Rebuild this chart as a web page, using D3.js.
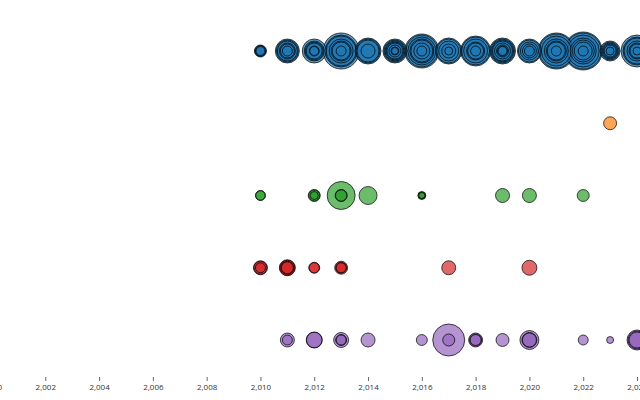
<!DOCTYPE html>
<html>
<head>
<meta charset="utf-8">
<script src="https://cdn.jsdelivr.net/npm/d3@7"></script>
<style>
  html, body { margin: 0; padding: 0; background: #fff; }
  svg { display: block; font-family: "Open Sans", "Noto Sans", sans-serif; }
</style>
</head>
<body>
<svg id="chart" width="640" height="400"></svg>
<script>
// Categories (rows) in order top to bottom
const categories = ["Series 1", "Series 2", "Series 3", "Series 4", "Series 5"];
const tickYears = [2000, 2002, 2004, 2006, 2008, 2010, 2012, 2014, 2016, 2018, 2020, 2022, 2024];

// Each entry: [year, value]; several entries per year overlap concentrically
const series1 = [
  [2010, 36], [2010, 30], [2010, 25], [2010, 20],
  [2011, 144], [2011, 121], [2011, 100], [2011, 64], [2011, 49], [2011, 25],
  [2012, 144], [2012, 100], [2012, 81], [2012, 64], [2012, 25], [2012, 20],
  [2013, 324], [2013, 256], [2013, 225], [2013, 144], [2013, 100], [2013, 81], [2013, 25],
  [2014, 169], [2014, 144], [2014, 121], [2014, 49],
  [2015, 144], [2015, 121], [2015, 100], [2015, 81], [2015, 64], [2015, 36], [2015, 16], [2015, 12],
  [2016, 289], [2016, 256], [2016, 196], [2016, 144], [2016, 121], [2016, 64], [2016, 25],
  [2017, 169], [2017, 144], [2017, 100], [2017, 49], [2017, 16],
  [2018, 225], [2018, 196], [2018, 144], [2018, 81], [2018, 64], [2018, 25],
  [2019, 169], [2019, 144], [2019, 121], [2019, 100], [2019, 64], [2019, 36], [2019, 25], [2019, 20],
  [2020, 144], [2020, 121], [2020, 81], [2020, 49], [2020, 25],
  [2021, 324], [2021, 289], [2021, 225], [2021, 144], [2021, 100], [2021, 81], [2021, 25],
  [2022, 361], [2022, 324], [2022, 256], [2022, 169], [2022, 121], [2022, 81], [2022, 25],
  [2023, 100], [2023, 81], [2023, 64], [2023, 49], [2023, 36], [2023, 16],
  [2024, 256], [2024, 196], [2024, 169], [2024, 100], [2024, 64], [2024, 49], [2024, 16]
];
const series2 = [
  [2023, 42]
];
const series3 = [
  [2010, 25], [2010, 22],
  [2012, 36], [2012, 30], [2012, 16],
  [2013, 196], [2013, 36], [2013, 32],
  [2014, 81],
  [2016, 16], [2016, 12], [2016, 9],
  [2019, 49],
  [2020, 49],
  [2022, 36]
];
const series4 = [
  [2010, 49], [2010, 42], [2010, 25],
  [2011, 64], [2011, 56], [2011, 42], [2011, 36],
  [2012, 30], [2012, 26],
  [2013, 42], [2013, 30], [2013, 25],
  [2017, 49],
  [2020, 56]
];
const series5 = [
  [2011, 49], [2011, 25],
  [2012, 64], [2012, 60],
  [2013, 56], [2013, 30], [2013, 25],
  [2014, 49],
  [2016, 30],
  [2017, 256], [2017, 36],
  [2018, 49], [2018, 36], [2018, 30],
  [2019, 42],
  [2020, 90], [2020, 56], [2020, 49],
  [2022, 25],
  [2023, 12],
  [2024, 100], [2024, 81], [2024, 64]
];
const allSeries = [series1, series2, series3, series4, series5];
const colors = d3.schemeCategory10;

const svg = d3.select("#chart");

const x = d3.scaleLinear().domain([2000, 2024]).range([-8.5, 637]);
const y = d3.scalePoint().domain(categories).range([51, 340]);
const r = d3.scaleSqrt().domain([0, 400]).range([0, 20]);

const data = [];
allSeries.forEach((s, i) => {
  s.forEach(([year, value]) => data.push({ cat: categories[i], ci: i, year, value }));
});
// Draw larger first so smaller remain visible on top
data.sort((a, b) => b.value - a.value);

svg.append("g")
  .selectAll("circle")
  .data(data)
  .join("circle")
  .attr("cx", d => x(d.year))
  .attr("cy", d => y(d.cat))
  .attr("r", d => r(d.value))
  .attr("fill", d => colors[d.ci])
  .attr("fill-opacity", 0.7)
  .attr("stroke", "#000")
  .attr("stroke-opacity", 0.7)
  .attr("stroke-width", 1);

const axis = svg.append("g")
  .attr("transform", "translate(0,377)")
  .call(d3.axisBottom(x).tickValues(tickYears).tickFormat(d3.format(",")).tickSize(4).tickPadding(3));
axis.select(".domain").remove();
axis.selectAll(".tick line").attr("stroke", "#666");
axis.selectAll("text").attr("font-size", 8).attr("fill", "#333")
  .attr("font-family", "'Open Sans', 'Noto Sans', sans-serif");
</script>
</body>
</html>
